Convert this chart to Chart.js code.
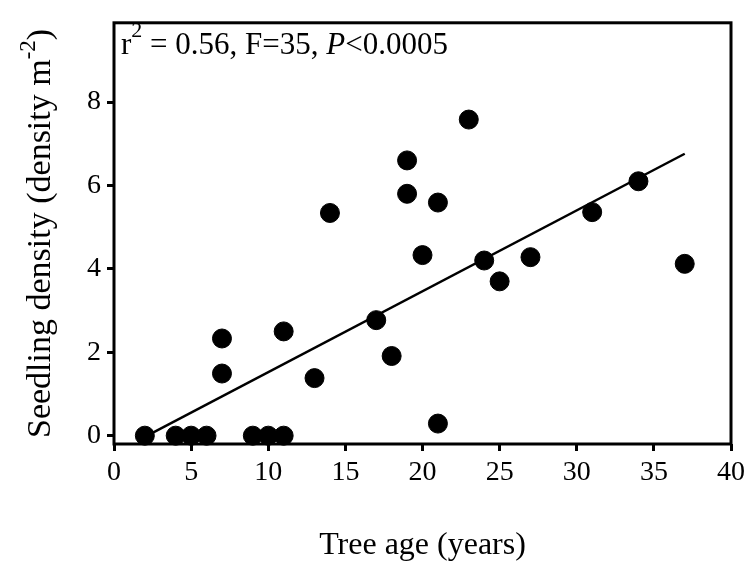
<!DOCTYPE html>
<html>
<head>
<meta charset="utf-8">
<script src="https://cdn.jsdelivr.net/npm/chart.js@4.4.0/dist/chart.umd.min.js"></script>
<style>
  html, body { margin: 0; padding: 0; background: #fff; }
</style>
</head>
<body>
<canvas id="chart" width="751" height="568"></canvas>
<script>
// values
const treeAge = [2, 4, 5, 6, 9, 10, 11, 7, 7, 11, 13, 14, 17, 18, 19, 19, 20, 21, 21, 23, 24, 25, 27, 31, 34, 37];
const seedlingDensity = [0, 0, 0, 0, 0, 0, 0, 1.49, 2.33, 2.5, 1.38, 5.34, 2.77, 1.91, 6.6, 5.8, 4.33, 5.59, 0.29, 7.58, 4.2, 3.7, 4.28, 5.36, 6.1, 4.12];
const fitAge = [2, 37];
const fitDensity = [-0.03, 6.76];
const xTicks = [0, 5, 10, 15, 20, 25, 30, 35, 40];
const yTicks = [0, 2, 4, 6, 8];

const serif = "'Liberation Serif', 'Times New Roman', serif";

const points = treeAge.map((a, i) => ({ x: a, y: seedlingDensity[i] }));
const fit = fitAge.map((a, i) => ({ x: a, y: fitDensity[i] }));

// box round the plot, the stats line and the y title (both need superscripts)
const extras = {
  id: 'extras',
  afterDraw(chart) {
    const { ctx, chartArea: a } = chart;
    ctx.save();
    ctx.strokeStyle = '#000';
    ctx.lineWidth = 3;
    ctx.strokeRect(a.left, a.top, a.right - a.left, a.bottom - a.top);

    ctx.fillStyle = '#000';
    ctx.textBaseline = 'alphabetic';
    let x = a.left + 7;
    const base = 54;
    const piece = (txt, font, dy) => {
      ctx.font = font;
      ctx.fillText(txt, x, base + (dy || 0));
      x += ctx.measureText(txt).width;
    };
    piece('r', '31px ' + serif);
    piece('2', '22px ' + serif, -17);
    piece(' = 0.56, F=35, ', '31px ' + serif);
    piece('P', 'italic 31px ' + serif);
    piece('<0.0005', '31px ' + serif);

    // y title, rotated
    const main = 'Seedling density (density m';
    const sup = '-2';
    const tail = ')';
    ctx.font = '34px ' + serif;
    const w1 = ctx.measureText(main).width;
    const w3 = ctx.measureText(tail).width;
    ctx.font = '23px ' + serif;
    const w2 = ctx.measureText(sup).width;
    const total = w1 + w2 + w3;
    ctx.translate(50, (a.top + a.bottom) / 2);
    ctx.rotate(-Math.PI / 2);
    let t = -total / 2;
    ctx.font = '34px ' + serif;
    ctx.fillText(main, t, 0);
    t += w1;
    ctx.font = '23px ' + serif;
    ctx.fillText(sup, t, -15);
    t += w2;
    ctx.font = '34px ' + serif;
    ctx.fillText(tail, t, 0);
    ctx.restore();
  }
};

new Chart(document.getElementById('chart'), {
  type: 'scatter',
  data: {
    datasets: [
      {
        type: 'line',
        data: fit,
        borderColor: '#000',
        borderWidth: 2.5,
        pointRadius: 0,
        fill: false,
        order: 2
      },
      {
        data: points,
        backgroundColor: '#000',
        borderColor: '#000',
        pointRadius: 9.5,
        clip: false,
        order: 1
      }
    ]
  },
  options: {
    responsive: false,
    animation: false,
    layout: { padding: { top: 12, right: 20, left: 0, bottom: 0 } },
    plugins: { legend: { display: false }, tooltip: { enabled: false } },
    scales: {
      x: {
        type: 'linear',
        min: 0,
        max: 40,
        afterFit: (s) => { s.height = 124; },
        afterBuildTicks: (s) => { s.ticks = xTicks.map(v => ({ value: v })); },
        grid: { drawOnChartArea: false, drawTicks: true, tickLength: 7, tickWidth: 3, tickColor: '#000' },
        border: { display: false },
        ticks: { color: '#000', font: { family: serif, size: 28 }, padding: 5, maxRotation: 0 },
        title: { display: true, text: 'Tree age (years)', color: '#000', font: { family: serif, size: 32 }, padding: { top: 0, bottom: 3 } }
      },
      y: {
        type: 'linear',
        min: -0.2,
        max: 9.9,
        afterFit: (s) => { s.width = 114; },
        afterBuildTicks: (s) => { s.ticks = yTicks.map(v => ({ value: v })); },
        grid: { drawOnChartArea: false, drawTicks: true, tickLength: 7, tickWidth: 3, tickColor: '#000' },
        border: { display: false },
        ticks: { color: '#000', font: { family: serif, size: 28 }, padding: 6 }
      }
    }
  },
  plugins: [extras]
});
</script>
</body>
</html>
